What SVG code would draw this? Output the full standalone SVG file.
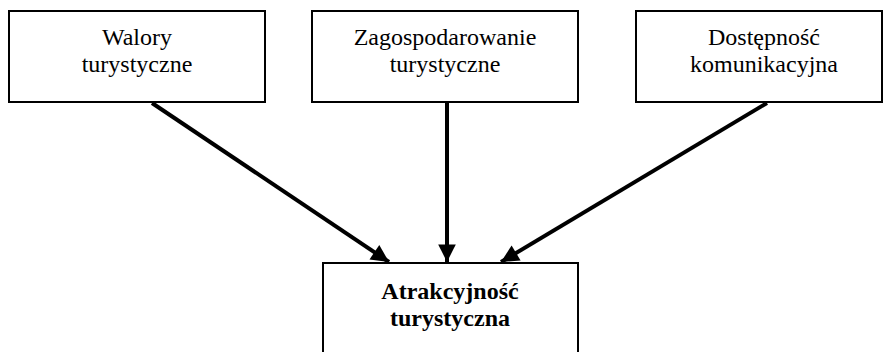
<svg xmlns="http://www.w3.org/2000/svg" width="884" height="352" viewBox="0 0 884 352">
<style>
.box{fill:#fff;stroke:#000;stroke-width:2}
.t{font-family:'Liberation Serif','Times New Roman',serif;font-size:24px;text-anchor:middle;fill:#000}
.b{font-weight:bold}
.c{stroke:#000;stroke-width:4;fill:none}
</style>
<defs>
<marker id="ah" viewBox="0 0 10 10" refX="10" refY="5" markerWidth="5" markerHeight="4.4" orient="auto" markerUnits="strokeWidth">
<path d="M0,0 L10,5 L0,10 Z" fill="#000"/>
</marker>
</defs>
<g id="n1">
<rect class="box" x="9" y="11" width="256" height="91"/>
<text class="t" x="137" y="45">Walory</text>
<text class="t" x="137" y="72">turystyczne</text>
</g>
<g id="n2">
<rect class="box" x="312" y="11" width="266" height="91"/>
<text class="t" x="445" y="45">Zagospodarowanie</text>
<text class="t" x="445" y="72">turystyczne</text>
</g>
<g id="n3">
<rect class="box" x="636" y="11" width="246" height="91"/>
<text class="t" x="764" y="45">Dostępność</text>
<text class="t" x="764" y="72">komunikacyjna</text>
</g>
<g id="n4">
<rect class="box" x="323" y="263" width="255" height="100"/>
<text class="t b" x="450" y="299">Atrakcyjność</text>
<text class="t b" x="450" y="326">turystyczna</text>
</g>
<g id="connectors">
<line class="c" x1="152" y1="103" x2="389" y2="262" marker-end="url(#ah)"/>
<line class="c" x1="447" y1="103" x2="447" y2="262" marker-end="url(#ah)"/>
<line class="c" x1="767" y1="103" x2="501" y2="262" marker-end="url(#ah)"/>
</g>
</svg>
